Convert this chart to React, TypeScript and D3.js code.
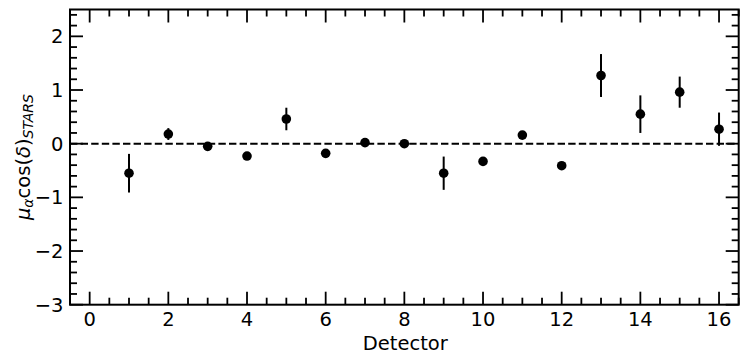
import React from "react";
import * as d3 from "d3";

const detectors = [1, 2, 3, 4, 5, 6, 7, 8, 9, 10, 11, 12, 13, 14, 15, 16];
const values = [-0.55, 0.18, -0.05, -0.23, 0.46, -0.18, 0.02, 0.0, -0.55, -0.33, 0.16, -0.41, 1.27, 0.55, 0.96, 0.27];
const errors = [0.36, 0.11, 0.04, 0.04, 0.21, 0.03, 0.03, 0.03, 0.31, 0.06, 0.04, 0.04, 0.4, 0.35, 0.29, 0.31];
const xTicks = [0, 2, 4, 6, 8, 10, 12, 14, 16];
const yTicks = [-3, -2, -1, 0, 1, 2];

const W = 748;
const H = 363;
const M = { left: 70, right: 9.3, top: 9.5, bottom: 58.3 };

export default function App() {
  const x = d3.scaleLinear().domain([-0.5, 16.5]).range([M.left, W - M.right]);
  const y = d3.scaleLinear().domain([-3, 2.5]).range([H - M.bottom, M.top]);
  const x0 = M.left, x1 = W - M.right, y0 = H - M.bottom, y1 = M.top;
  const xMinor = d3.range(-0.5, 16.51, 0.5).filter((v) => Math.abs(v - Math.round(v / 2) * 2) > 1e-6);
  const yMinor = d3.range(-3, 2.51, 0.2).map((v) => +v.toFixed(2)).filter((v) => Math.abs(v - Math.round(v)) > 1e-6);
  const major = 13, minor = 7;
  const font = "DejaVu Sans, sans-serif";
  const fs = 19.5;
  return (
    <svg width={W} height={H} style={{ position: "absolute", left: 0, top: 0, background: "#fff" }} fontFamily={font}>
      <line x1={x0} x2={x1} y1={y(0)} y2={y(0)} stroke="#000" strokeWidth={2} strokeDasharray="7.4 3.2" />
      {detectors.map((d, i) => (
        <line key={"e" + i} x1={x(d)} x2={x(d)} y1={y(values[i] - errors[i])} y2={y(values[i] + errors[i])} stroke="#000" strokeWidth={2} />
      ))}
      {detectors.map((d, i) => (
        <circle key={"p" + i} cx={x(d)} cy={y(values[i])} r={4.8} fill="#000" />
      ))}
      <g stroke="#000" strokeWidth={1.8}>
        {xTicks.map((t) => (
          <g key={"xt" + t}>
            <line x1={x(t)} x2={x(t)} y1={y0} y2={y0 - major} />
            <line x1={x(t)} x2={x(t)} y1={y1} y2={y1 + major} />
          </g>
        ))}
        {xMinor.map((t) => (
          <g key={"xm" + t}>
            <line x1={x(t)} x2={x(t)} y1={y0} y2={y0 - minor} />
            <line x1={x(t)} x2={x(t)} y1={y1} y2={y1 + minor} />
          </g>
        ))}
        {yTicks.map((t) => (
          <g key={"yt" + t}>
            <line x1={x0} x2={x0 + major} y1={y(t)} y2={y(t)} />
            <line x1={x1} x2={x1 - major} y1={y(t)} y2={y(t)} />
          </g>
        ))}
        {yMinor.map((t) => (
          <g key={"ym" + t}>
            <line x1={x0} x2={x0 + minor} y1={y(t)} y2={y(t)} />
            <line x1={x1} x2={x1 - minor} y1={y(t)} y2={y(t)} />
          </g>
        ))}
      </g>
      <rect x={x0} y={y1} width={x1 - x0} height={y0 - y1} fill="none" stroke="#000" strokeWidth={2} />
      {xTicks.map((t) => (
        <text key={"xl" + t} x={x(t)} y={325.7} textAnchor="middle" fontSize={fs}>
          {t}
        </text>
      ))}
      {yTicks.map((t) => (
        <text key={"yl" + t} x={63.5} y={y(t) + 7.1} textAnchor="end" fontSize={fs}>
          {t < 0 ? "\u2212" + Math.abs(t) : String(t)}
        </text>
      ))}
      <text x={(x0 + x1) / 2 + 1} y={350} textAnchor="middle" fontSize={fs}>
        Detector
      </text>
      <text transform={`translate(29.5,${(y0 + y1) / 2}) rotate(-90)`} textAnchor="middle" fontSize={fs}>
        <tspan fontStyle="italic">μ</tspan>
        <tspan fontStyle="italic" fontSize={14} dy={3.5}>α</tspan>
        <tspan dy={-3.5}>cos(</tspan>
        <tspan fontStyle="italic">δ</tspan>
        <tspan>)</tspan>
        <tspan fontStyle="italic" fontSize={14} dy={3.5}>STARS</tspan>
      </text>
    </svg>
  );
}
